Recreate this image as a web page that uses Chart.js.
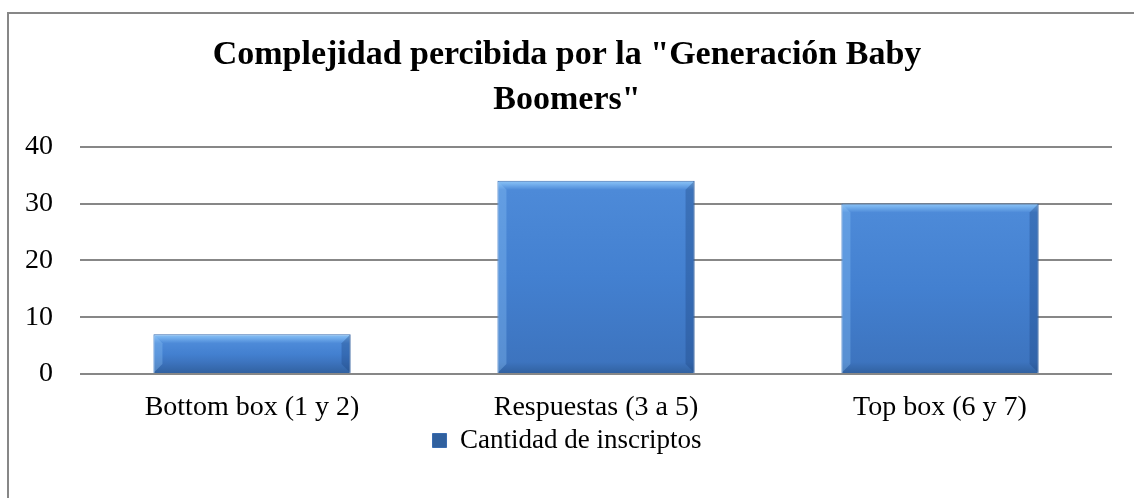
<!DOCTYPE html>
<html>
<head>
<meta charset="utf-8">
<script src="https://cdn.jsdelivr.net/npm/chart.js@4/dist/chart.umd.min.js"></script>
<style>
  body { margin: 0; background: #fff; }
  #wrap { position: relative; width: 1134px; height: 498px; overflow: hidden; }
  #frame { position: absolute; left: 7px; top: 12px; width: 1140px; height: 500px;
           border: 2px solid #878787; pointer-events: none; }
  canvas { position: absolute; left: 0; top: 0; }
</style>
</head>
<body>
<div id="wrap">
  <canvas id="chart" width="1134" height="498"></canvas>
  <div id="frame"></div>
</div>
<script>
var categories = ['Bottom box (1 y 2)', 'Respuestas (3 a 5)', 'Top box (6 y 7)'];
var inscriptos = [7, 34, 30];
var titleLines = ['Complejidad percibida por la "Generación Baby', 'Boomers"'];
var seriesName = 'Cantidad de inscriptos';

var serif = '"Liberation Serif", "Times New Roman", serif';

function barFill(ctx) {
  var chart = ctx.chart;
  if (!chart.chartArea || ctx.raw === undefined) return '#4580d0';
  var y = chart.scales.y;
  var top = y.getPixelForValue(ctx.raw);
  var bot = y.getPixelForValue(0);
  var h = Math.max(bot - top, 1);
  var f = function(px){ return Math.min(px / h, 0.45); };
  var g = chart.ctx.createLinearGradient(0, top, 0, bot);
  g.addColorStop(0, '#8ec4f4');
  g.addColorStop(f(3), '#78b3ef');
  g.addColorStop(f(9), '#4d8ad8');
  g.addColorStop(0.5, '#4380d0');
  g.addColorStop(1 - f(12), '#3d74bf');
  g.addColorStop(1, '#30609e');
  return g;
}

// side bevels, drawn on the bar elements that the library laid out
var bevel = {
  id: 'bevel',
  afterDatasetsDraw: function(chart) {
    var c = chart.ctx;
    var meta = chart.getDatasetMeta(0);
    meta.data.forEach(function(bar) {
      var l = bar.x - bar.width / 2, r = bar.x + bar.width / 2;
      var t = bar.y, b = bar.base, d = Math.min(9, (b - t) / 2);
      c.save();
      c.fillStyle = 'rgba(140,195,245,0.35)';
      c.beginPath(); c.moveTo(l, t); c.lineTo(l + d, t + d); c.lineTo(l + d, b - d); c.lineTo(l, b); c.closePath(); c.fill();
      c.fillStyle = 'rgba(30,70,130,0.35)';
      c.beginPath(); c.moveTo(r, t); c.lineTo(r - d, t + d); c.lineTo(r - d, b - d); c.lineTo(r, b); c.closePath(); c.fill();
      c.restore();
    });
  }
};

new Chart(document.getElementById('chart'), {
  type: 'bar',
  data: {
    labels: categories,
    datasets: [{
      label: seriesName,
      data: inscriptos,
      backgroundColor: barFill,
      borderColor: '#3a6cb0',
      borderWidth: 1,
      categoryPercentage: 1,
      barPercentage: 0.573
    }]
  },
  options: {
    responsive: false,
    animation: false,
    layout: { padding: { left: 22, right: 22, top: 0, bottom: 34 } },
    plugins: {
      tooltip: { enabled: false },
      title: {
        display: true,
        text: titleLines,
        color: '#000',
        font: { family: serif, size: 34, weight: 'bold', lineHeight: 1.32 },
        padding: { top: 33, bottom: 24 }
      },
      legend: {
        position: 'bottom',
        labels: {
          color: '#000',
          font: { family: serif, size: 27 },
          boxWidth: 14,
          boxHeight: 14,
          padding: 6
        }
      }
    },
    scales: {
      x: {
        grid: { display: false },
        border: { display: false },
        ticks: { color: '#000', font: { family: serif, size: 28 }, padding: 9, maxRotation: 0 },
        afterFit: function(axis) { axis.height = 47; }
      },
      y: {
        min: 0,
        max: 40,
        ticks: { stepSize: 10, color: '#000', font: { family: serif, size: 28 }, padding: 27 },
        grid: { color: '#878787', lineWidth: 2, drawTicks: false },
        border: { display: false },
        afterFit: function(axis) { axis.width = 58; }
      }
    }
  },
  plugins: [bevel]
});
</script>
</body>
</html>
